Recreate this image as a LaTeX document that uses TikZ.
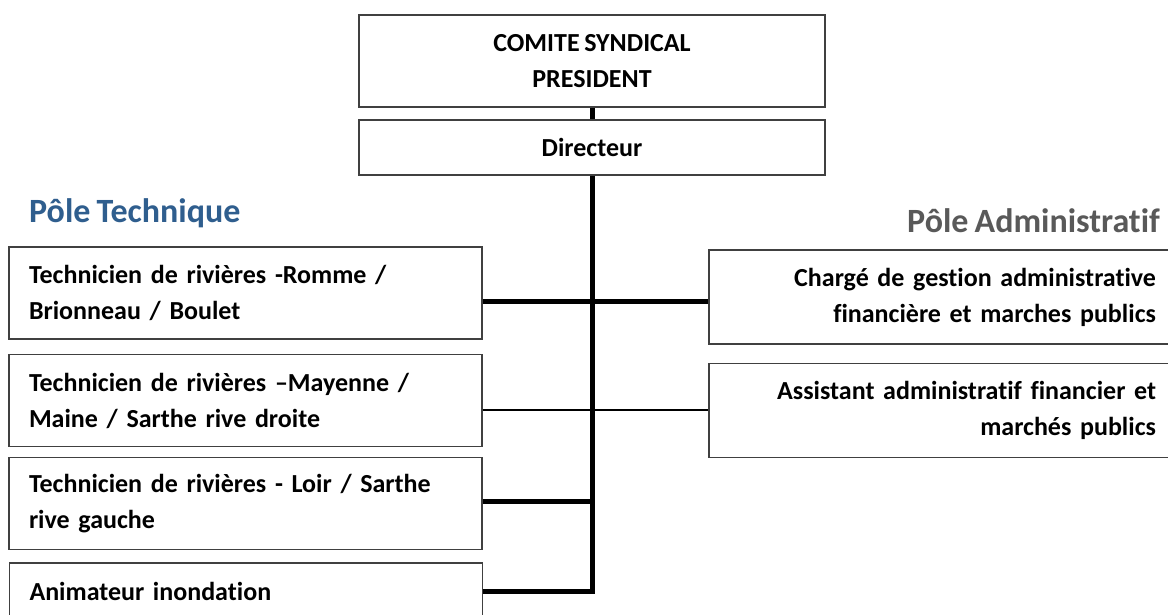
\documentclass[tikz,border=0pt]{standalone}
\usepackage{fontspec}
\setmainfont[WordSpace=0.8,Ligatures=NoCommon]{Carlito}
\usepackage{xcolor}
\usepackage{tikz}
\definecolor{poleblue}{HTML}{2F5E8E}
\definecolor{polegrey}{HTML}{595959}
\newcommand{\boxfont}{\fontsize{26}{36}\selectfont\bfseries}
\newcommand{\polefont}{\fontsize{34}{40}\selectfont\bfseries}

\begin{document}
\begin{tikzpicture}[x=1pt,y=-1pt,
		unit/.style={rectangle, draw=black!75, line width=1.3pt, inner xsep=20pt, inner ysep=0pt, font=\boxfont},
		techbox/.style={unit, minimum width=473pt, minimum height=92pt, text width=433pt, align=left},
		admbox/.style={unit, minimum width=467pt, minimum height=94pt, text width=427pt, align=right},
		trunk/.style={black, line width=5pt},
		branch/.style={black, line width=2.8pt}]
		\useasboundingbox (0,0) rectangle (1168,614);

		% Head of the syndicate
		\node (CS) at (592,61) [unit, minimum width=466pt, minimum height=92pt, align=center] {COMITE SYNDICAL\\PRESIDENT};
		\node (DIR) at (592,147.5) [unit, minimum width=466pt, minimum height=55pt] {Directeur};

		% Technical pole
		\node[anchor=base west, font=\polefont, text=poleblue, inner sep=0pt] (POLE_T) at (29,222) {Pôle Technique};
		\node[techbox] (TECH_A) at (245.5,293) {Technicien de rivières -Romme /\\Brionneau / Boulet};
		\node[techbox] (TECH_B) at (245.5,400.5) {Technicien de rivières –Mayenne /\\Maine / Sarthe rive droite};
		\node[techbox] (TECH_C) at (245.5,503.5) {Technicien de rivières - Loir / Sarthe\\rive gauche};
		\node[techbox] (TECH_D) at (246,609) {Animateur inondation\\\mbox{}};

		% Administrative pole
		\node[anchor=base east, font=\polefont, text=polegrey, inner sep=0pt] (POLE_A) at (1160,232) {Pôle Administratif};
		\node[admbox] (ADM_A) at (942.5,297) {Chargé de gestion administrative\\financière et marches publics};
		\node[admbox] (ADM_B) at (942.5,410.5) {Assistant administratif financier et\\marchés publics};

		% Junctions on the trunk
		\coordinate (J_A) at (592,301);
		\coordinate (J_B) at (592,410);
		\coordinate (J_C) at (592,501);
		\coordinate (J_D) at (592,591);

		% Connectors
		\draw[trunk] (CS) -- (DIR);
		\draw[trunk] (DIR) -- (J_D) -- (TECH_D.east |- J_D);
		\draw[trunk] (TECH_A.east |- J_A) -- (ADM_A.west |- J_A);
		\draw[branch] (TECH_B.east |- J_B) -- (ADM_B.west |- J_B);
		\draw[trunk] (TECH_C.east |- J_C) -- (J_C);
\end{tikzpicture}
\end{document}
